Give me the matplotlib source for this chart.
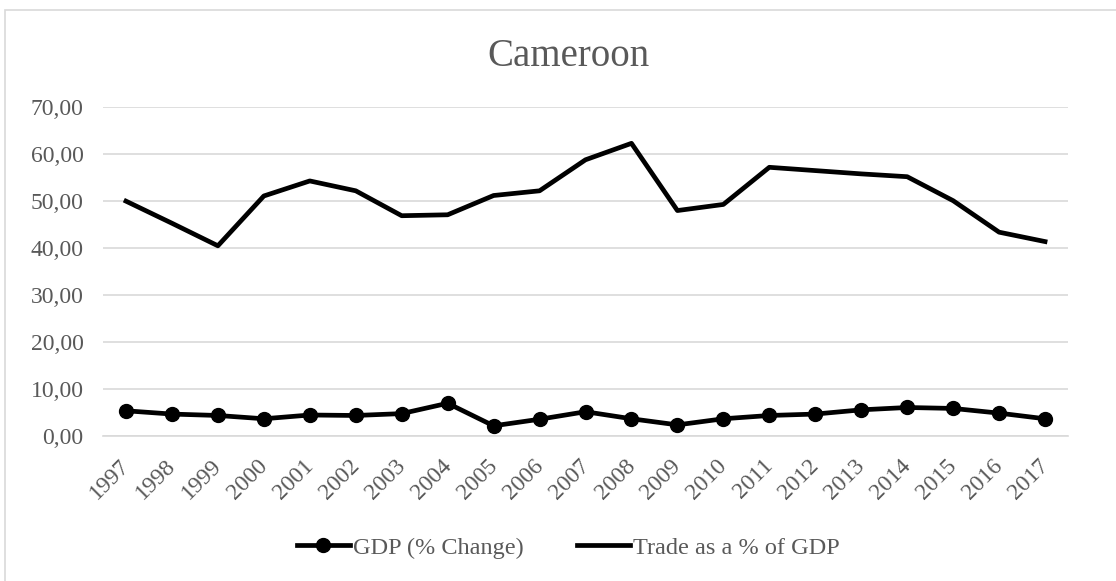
import matplotlib
matplotlib.use('Agg')
from matplotlib import pyplot as plt
from matplotlib.patches import Rectangle
from matplotlib.ticker import FuncFormatter
from matplotlib.transforms import ScaledTranslation

years = [str(y) for y in range(1997, 2018)]
gdp_change = [5.3, 4.6, 4.3, 3.6, 4.4, 4.3, 4.7, 6.9, 2.1, 3.5,
              5.1, 3.6, 2.3, 3.6, 4.3, 4.6, 5.5, 6.0, 5.8, 4.8, 3.6]
trade_pct = [49.9, 45.2, 40.4, 51.0, 54.2, 52.1, 46.8, 47.0, 51.1, 52.1,
             58.7, 62.2, 47.9, 49.2, 57.1, 56.4, 55.7, 55.1, 50.0, 43.3, 41.3]

plt.rcParams['font.family'] = ['Liberation Serif', 'DejaVu Serif']
grey = '#595959'

fig = plt.figure(figsize=(11.16, 5.81), dpi=100)
ax = fig.add_axes([0.0923, 0.2501, 0.8647, 0.5663])

x = range(len(years))
ax.plot(x, gdp_change, c='black', lw=3.4, marker='o', ms=10,
        label='GDP (% Change)')
ax.plot(x, trade_pct, c='black', lw=3.4, label='Trade as a % of GDP')

ax.set_xlim(-0.5, len(years) - 0.5)
ax.set_ylim(0, 70)
ax.set_yticks(range(0, 71, 10))
ax.yaxis.set_major_formatter(FuncFormatter(lambda v, p: f'{v:.2f}'.replace('.', ',')))
ax.set_xticks(list(x))
ax.set_xticklabels(years, rotation=45, ha='right', va='top', rotation_mode='anchor')
ax.tick_params(axis='both', length=0, labelsize=17, colors=grey)
ax.tick_params(axis='y', pad=14)
ax.tick_params(axis='x', pad=14)
# labels sit a bit left of the tick, like Excel does it
shift = ScaledTranslation(-7 / 100, 0, fig.dpi_scale_trans)
for lbl in ax.get_xticklabels():
    lbl.set_transform(lbl.get_transform() + shift)
ax.grid(axis='y', color='#d9d9d9', lw=1.2)
ax.set_axisbelow(True)
for s in ['top', 'right', 'left']:
    ax.spines[s].set_visible(False)
ax.spines['bottom'].set_color('#d9d9d9')
ax.spines['bottom'].set_linewidth(1.2)

fig.text(0.509, 0.903, 'Cameroon', ha='center', va='center', fontsize=28, color=grey)

fig.legend(loc='center', bbox_to_anchor=(0.509, 0.057), ncol=2, frameon=False,
           fontsize=17.5, labelcolor=grey, handlelength=2.2, handletextpad=0.1,
           columnspacing=2.2)

fig.patches.append(Rectangle((5 / 1116, -0.1), 1.2, 1 - 10 / 581 + 0.1,
                             transform=fig.transFigure, fill=False,
                             ec='#d9d9d9', lw=1.2))

fig.savefig('out.png', dpi=100)
